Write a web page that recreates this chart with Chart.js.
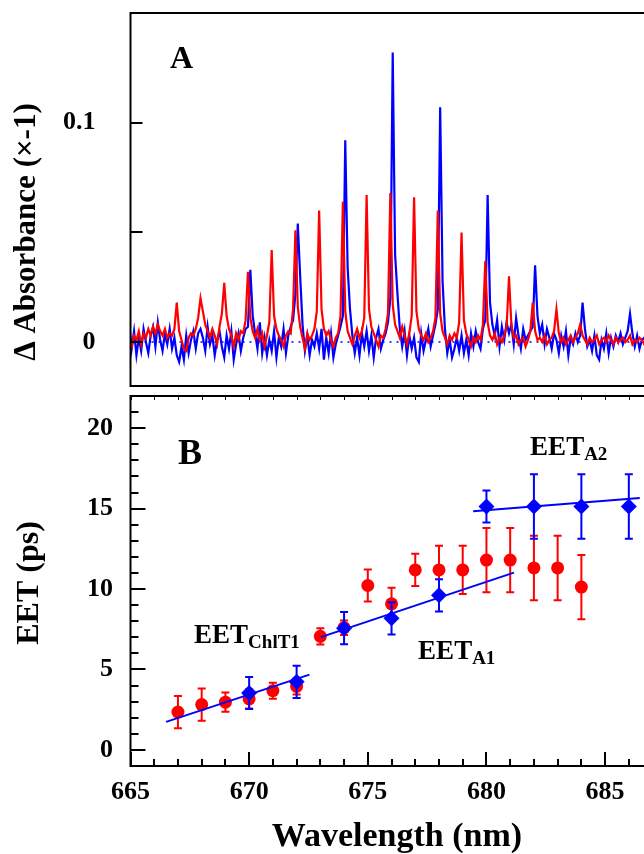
<!DOCTYPE html>
<html><head><meta charset="utf-8">
<script src="https://cdn.jsdelivr.net/npm/chart.js@4.4.1/dist/chart.umd.min.js"></script>
<style>
html,body{margin:0;padding:0;background:#fff;overflow:hidden;}
#wrap{position:relative;width:644px;height:854px;overflow:hidden;background:#fff;}
canvas{position:absolute;left:0;}
#cA{top:0;width:760px;height:390px;}
#cB{top:388px;width:760px;height:466px;}
</style></head><body>
<div id="wrap"><canvas id="cA" width="760" height="390"></canvas><canvas id="cB" width="760" height="466"></canvas></div>
<script>
// ---------------- DATA ----------------
// Panel A: difference spectra, sampled every 0.1 nm starting at 664.95 nm, values in 10^-3 absorbance units
const SPEC_START = 664.95;
const SPEC_STEP = 0.1;
const specRed_mAbs = [
  0,-2,3,1,5,-1,4,2,6,3,
  7,4,8,5,3,6,2,4,3,6,
  18,5,1,-3,-4,2,4,3,6,11,
  20,14,8,5,2,6,3,-1,7,13,
  27,12,6,3,-2,4,1,5,4,10,
  32,11,5,2,6,1,4,-2,3,9,
  42,12,6,3,1,-2,3,5,4,15,
  51,16,7,2,-3,4,1,3,6,14,
  60,15,6,3,5,1,-2,2,4,12,
  64,14,5,2,-1,3,6,2,5,11,
  67,15,7,4,1,-2,3,2,6,13,
  68,17,8,5,2,7,3,-1,4,12,
  66,14,6,3,1,4,0,2,5,11,
  60,13,5,2,-1,3,1,4,2,9,
  50,10,4,1,-2,2,0,3,1,8,
  37,9,3,1,4,-1,2,0,3,7,
  30,8,2,3,-1,1,2,-2,1,5,
  18,5,1,2,0,3,-1,1,2,5,
  15,4,0,2,-1,1,3,0,2,4,
  8,3,1,-1,2,0,1,3,-1,1,
  2,0,3,1,-1,2,0,1,2,0,
  1,3,-1,1,0,2,1,-1,2,0,
  1
];
const specBlue_mAbs = [
  8,-3,5,-6,2,-4,6,0,-5,3,
  7,-2,9,1,-4,4,-1,6,-3,2,
  -6,-9,-2,-8,3,-5,1,5,-3,4,
  6,2,-4,7,-1,3,-6,1,5,-2,
  -7,3,-3,5,-8,-1,4,-4,2,6,
  7,33,12,4,-3,9,-5,2,-6,1,
  -4,5,-7,2,-2,6,-5,3,7,10,
  22,54,30,8,-4,3,-6,1,-2,4,
  -3,6,-8,2,-5,4,-7,-1,3,7,
  12,92,34,15,3,-5,2,-6,4,-2,
  5,-4,3,-7,2,6,-3,1,4,9,
  20,132,40,22,6,-2,5,-6,3,-3,
  2,-7,-9,4,-4,1,6,-2,3,8,
  15,107,28,6,-5,1,-7,-3,2,-4,
  3,-5,1,-6,4,-2,5,0,-3,6,
  10,67,18,8,3,10,-2,7,1,9,
  4,8,-1,11,3,-3,6,1,3,5,
  7,35,12,4,8,-1,6,2,-3,4,
  1,-5,3,-2,5,-6,2,-1,4,0,
  3,18,6,-2,1,-4,3,-6,-8,1,
  -3,4,-5,2,-2,3,0,4,-1,2,
  5,13,4,-2,3,-3,1,2,-2,3,
  0
];
// Panel B: EET times (ps)
const redWl   = [667,668,669,670,671,672,673,674,675,676,677,678,679,680,681,682,683,684];
const redEET  = [2.35,2.82,2.97,3.17,3.68,3.95,7.06,7.6,10.22,9.08,11.19,11.19,11.19,11.8,11.8,11.31,11.31,10.12];
const redErr  = [1.0,1.0,0.6,0.6,0.5,0.5,0.5,0.45,1.0,1.0,1.0,1.5,1.5,2.0,2.0,2.0,2.0,2.0];
const blueWl  = [670,672,674,676,678,680,682,684,686];
const blueEET = [3.54,4.23,7.57,8.18,9.61,15.13,15.13,15.13,15.13];
const blueErr = [1.0,1.0,1.0,1.0,1.0,1.0,2.0,2.0,2.0];
const fitChlT1_wl = [666.5, 672.54];  const fitChlT1_eet = [1.74, 4.68];
const fitA1_wl    = [673.02, 681.16]; const fitA1_eet    = [7.01, 11.02];
const fitA2_wl    = [679.44, 686.46]; const fitA2_eet    = [14.83, 15.66];
// Ticks and labels
const ticksA_y = [0, 0.05, 0.1];
const labelsA_y = ['0', '', '0.1'];
const ticksB_yMajor = [0, 5, 10, 15, 20];
const labelsB_y = ['0', '5', '10', '15', '20'];
const ticksB_yMinor = [1,2,3,4,6,7,8,9,11,12,13,14,16,17,18,19,21];
const ticksB_xMajor = [665, 670, 675, 680, 685, 690];
const labelsB_x = ['665', '670', '675', '680', '685', '690'];
const ticksB_xMinor = [666,667,668,669,671,672,673,674,676,677,678,679,681,682,683,684,686,687,688,689];
const titleA = '\u0394 Absorbance (\u00d7-1)';
const titleBy = 'EET (ps)';
const titleBx = 'Wavelength (nm)';
const eetLabels = [
  {main:'EET', sub:'ChlT1', wl:667.68, val:6.62},
  {main:'EET', sub:'A1', wl:677.12, val:5.64},
  {main:'EET', sub:'A2', wl:681.84, val:18.33}
];
const panelA = {text:'A', wl:666.66, val:0.1248};
const panelB = {text:'B', wl:667.0, val:17.78};

// ---------------- CHARTS ----------------
const FONT = '"Liberation Serif","Times New Roman",serif';
function specPoints(arr){ return arr.map((v,i)=>({x: +(SPEC_START + i*SPEC_STEP).toFixed(2), y: v/1000})); }
function xyPoints(xs, ys){ return xs.map((x,i)=>({x:x, y:ys[i]})); }
function noPad(s){ s.paddingTop=0; s.paddingBottom=0; s.paddingLeft=0; s.paddingRight=0; }

const decoA = {
  id:'decoA',
  afterDraw(chart){
    const {ctx, chartArea:a, scales:{x,y}} = chart;
    ctx.save();
    ctx.strokeStyle='#000'; ctx.lineWidth=2;
    ctx.strokeRect(a.left, a.top, a.right-a.left, a.bottom-a.top);
    ctx.beginPath();
    ticksA_y.forEach(v=>{ const py=Math.round(y.getPixelForValue(v)); ctx.moveTo(a.left, py); ctx.lineTo(a.left+12, py); });
    ctx.stroke();
    ctx.fillStyle='#000';
    ctx.font = 'bold 32px ' + FONT; ctx.textAlign='left'; ctx.textBaseline='alphabetic';
    ctx.fillText(panelA.text, x.getPixelForValue(panelA.wl), y.getPixelForValue(panelA.val));
    ctx.translate(27, 232); ctx.rotate(-Math.PI/2);
    ctx.textAlign='center'; ctx.textBaseline='middle';
    ctx.font = 'bold 31px ' + FONT;
    ctx.fillText(titleA, 0, 0);
    ctx.restore();
  }
};

new Chart(document.getElementById('cA'), {
  type:'scatter',
  data:{datasets:[
    {label:'red', data:specPoints(specRed_mAbs), showLine:true, borderColor:'#ff0000', borderWidth:2.2, pointRadius:0, tension:0},
    {label:'blue', data:specPoints(specBlue_mAbs), showLine:true, borderColor:'#0000ff', borderWidth:2.2, pointRadius:0, tension:0},
    {label:'zero', data:[{x:665,y:0},{x:690,y:0}], showLine:true, borderColor:'#0000ff', borderWidth:1.5, borderDash:[2,5], pointRadius:0}
  ]},
  options:{
    responsive:false, animation:false, events:[],
    layout:{padding:{top:13, bottom:4, left:0, right:36.25}},
    plugins:{legend:{display:false}, tooltip:{enabled:false}},
    scales:{
      x:{type:'linear', min:665, max:690, display:false},
      y:{type:'linear', min:-0.02, max:0.15,
         afterFit:s=>{s.width=130.5; noPad(s);},
         afterBuildTicks:s=>{s.ticks = ticksA_y.map(v=>({value:v}));},
         grid:{display:false, drawTicks:false}, border:{display:false},
         ticks:{callback:(v,i)=>labelsA_y[i], font:{family:FONT, size:26, weight:'bold'}, color:'#000', padding:35, maxRotation:0, autoSkip:false}}
    }
  },
  plugins:[decoA]
});

function drawErrBars(ctx, x, y, xs, ys, es, color){
  ctx.save();
  ctx.strokeStyle=color; ctx.lineWidth=2;
  ctx.beginPath();
  xs.forEach((wl,i)=>{
    const px=x.getPixelForValue(wl);
    const t=y.getPixelForValue(ys[i]+es[i]), b=y.getPixelForValue(ys[i]-es[i]);
    ctx.moveTo(px,t); ctx.lineTo(px,b);
    ctx.moveTo(px-4,t); ctx.lineTo(px+4,t);
    ctx.moveTo(px-4,b); ctx.lineTo(px+4,b);
  });
  ctx.stroke();
  ctx.restore();
}

const decoB = {
  id:'decoB',
  afterDatasetDraw(chart, args){
    const {ctx, scales:{x,y}} = chart;
    if (args.index===4) drawErrBars(ctx, x, y, redWl, redEET, redErr, '#ff0000');
    if (args.index===3) drawErrBars(ctx, x, y, blueWl, blueEET, blueErr, '#0000ff');
  },
  afterDraw(chart){
    const {ctx, chartArea:a, scales:{x,y}} = chart;
    ctx.save();
    ctx.strokeStyle='#000'; ctx.lineWidth=2;
    ctx.strokeRect(a.left, a.top, a.right-a.left, a.bottom-a.top);
    ctx.beginPath();
    ticksB_yMajor.forEach(v=>{const py=Math.round(y.getPixelForValue(v)); ctx.moveTo(a.left,py); ctx.lineTo(a.left+15,py);});
    ticksB_yMinor.forEach(v=>{const py=Math.round(y.getPixelForValue(v)); ctx.moveTo(a.left,py); ctx.lineTo(a.left+8,py);});
    ticksB_xMajor.forEach(v=>{const px=Math.round(x.getPixelForValue(v)); ctx.moveTo(px,a.bottom); ctx.lineTo(px,a.bottom-14);});
    ticksB_xMinor.forEach(v=>{const px=Math.round(x.getPixelForValue(v)); ctx.moveTo(px,a.bottom); ctx.lineTo(px,a.bottom-7);});
    ctx.stroke();
    ctx.lineWidth=1;
    ctx.beginPath();
    ticksB_xMajor.concat(ticksB_xMinor).forEach(v=>{const px=Math.round(x.getPixelForValue(v))+0.5; ctx.moveTo(px,a.top); ctx.lineTo(px,a.top+4);});
    ctx.stroke();
    ctx.fillStyle='#000';
    ctx.font='bold 36px ' + FONT; ctx.textAlign='left'; ctx.textBaseline='alphabetic';
    ctx.fillText(panelB.text, x.getPixelForValue(panelB.wl), y.getPixelForValue(panelB.val));
    eetLabels.forEach(l=>{
      const px=x.getPixelForValue(l.wl), py=y.getPixelForValue(l.val);
      ctx.font='bold 27px ' + FONT;
      ctx.fillText(l.main, px, py);
      const w=ctx.measureText(l.main).width;
      ctx.font='bold 19px ' + FONT;
      ctx.fillText(l.sub, px+w, py+5);
    });
    ctx.textAlign='center';
    ctx.font='bold 34px ' + FONT;
    ctx.fillText(titleBx, 397, 458);
    ctx.translate(30, 195); ctx.rotate(-Math.PI/2);
    ctx.textBaseline='middle';
    ctx.font='bold 32px ' + FONT;
    ctx.fillText(titleBy, 0, 0);
    ctx.restore();
  }
};

new Chart(document.getElementById('cB'), {
  type:'scatter',
  data:{datasets:[
    {label:'fit ChlT1', data:xyPoints(fitChlT1_wl, fitChlT1_eet), showLine:true, borderColor:'#0000ff', borderWidth:2, pointRadius:0},
    {label:'fit A1', data:xyPoints(fitA1_wl, fitA1_eet), showLine:true, borderColor:'#0000ff', borderWidth:2, pointRadius:0},
    {label:'fit A2', data:xyPoints(fitA2_wl, fitA2_eet), showLine:true, borderColor:'#0000ff', borderWidth:2, pointRadius:0},
    {label:'blue', data:xyPoints(blueWl, blueEET), pointStyle:'rectRot', pointRadius:8, backgroundColor:'#0000ff', borderColor:'#0000ff', borderWidth:0},
    {label:'red', data:xyPoints(redWl, redEET), pointStyle:'circle', pointRadius:6.5, backgroundColor:'#ff0000', borderColor:'#ff0000', borderWidth:0}
  ]},
  options:{
    responsive:false, animation:false, events:[],
    layout:{padding:{top:3, bottom:0, left:0, right:36.25}},
    plugins:{legend:{display:false}, tooltip:{enabled:false}},
    scales:{
      x:{type:'linear', min:665, max:690,
         afterFit:s=>{s.height=88; noPad(s);},
         afterBuildTicks:s=>{s.ticks = ticksB_xMajor.map(v=>({value:v}));},
         grid:{display:false, drawTicks:false}, border:{display:false},
         ticks:{callback:(v,i)=>labelsB_x[i], font:{family:FONT, size:26, weight:'bold'}, color:'#000', padding:11, maxRotation:0, autoSkip:false}},
      y:{type:'linear', min:-1, max:22,
         afterFit:s=>{s.width=130.5; noPad(s);},
         afterBuildTicks:s=>{s.ticks = ticksB_yMajor.map(v=>({value:v}));},
         grid:{display:false, drawTicks:false}, border:{display:false},
         ticks:{callback:(v,i)=>labelsB_y[i], font:{family:FONT, size:26, weight:'bold'}, color:'#000', padding:17.5, maxRotation:0, autoSkip:false}}
    }
  },
  plugins:[decoB]
});
</script>
</body></html>
